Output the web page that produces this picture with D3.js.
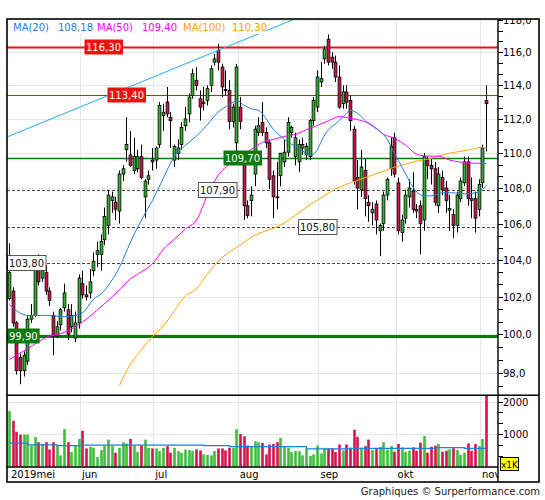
<!DOCTYPE html>
<html><head><meta charset="utf-8">
<script src="https://cdn.jsdelivr.net/npm/d3@7"></script>
<style>
body{margin:0;background:#fff}
svg{display:block}
text{font-family:"DejaVu Sans",Verdana,sans-serif}
</style>
</head><body>
<svg id="c" width="545" height="500"></svg>
<script>
// ---------------- DATA ----------------
const opens  = [101.9,102.3,100.6,98.8,98.1,98.6,100.8,101.0,103.6,103.0,103.3,102.3,101.0,99.9,100.5,101.4,101.3,100.4,99.8,100.6,
102.7,102.1,102.2,103.4,104.3,104.3,105.1,105.9,107.3,107.2,106.7,108.8,110.2,109.9,109.0,109.1,109.8,107.5,108.5,109.6,
109.6,110.5,112.2,113.0,112.1,109.6,110.0,110.5,111.6,112.3,113.4,114.3,113.2,112.9,113.1,114.0,115.4,116.1,115.1,113.75,
113.7,111.85,110.6,112.7,109.5,107.0,107.3,108.8,111.2,111.8,111.2,110.6,108.7,107.5,108.7,109.5,110.06,111.2,109.8,109.5,
110.3,109.9,109.8,111.9,112.7,114.2,115.6,116.8,115.7,115.4,114.5,112.9,113.6,113.1,111.4,108.6,107.9,109.0,107.2,106.6,
107.1,105.6,106.0,107.6,109.1,110.9,108.3,105.5,106.3,107.5,107.8,106.8,107.0,106.2,109.6,109.3,109.1,107.0,108.6,108.0,
106.75,106.5,105.9,107.4,108.3,109.5,107.4,107.4,106.8,108.3,113.1];
const highs  = [104.9,102.5,100.7,99.0,99.1,101.0,101.6,104.1,104.3,103.7,103.7,102.5,101.2,100.7,101.4,102.7,101.6,101.6,101.2,103.2,
103.4,102.6,103.5,104.4,105.0,105.4,106.9,107.9,107.8,107.5,109.0,109.3,112.1,111.3,110.9,110.2,110.5,108.5,109.0,110.3,
110.4,113.0,112.9,113.9,112.4,110.5,110.8,111.8,112.7,113.5,115.0,115.1,113.7,113.9,114.0,115.2,115.9,116.5,115.3,114.9,
114.3,112.9,115.3,113.3,110.0,107.3,108.1,111.6,112.1,113.0,111.5,110.8,109.0,109.5,110.0,110.8,112.1,111.6,111.2,110.8,
110.9,110.6,112.0,113.3,114.9,115.4,116.4,117.1,116.0,115.8,115.2,114.0,114.0,113.4,111.6,109.6,110.2,109.7,107.6,107.2,
107.3,106.0,107.8,108.6,110.9,111.2,108.6,106.5,107.9,108.5,108.9,107.1,107.3,110.0,109.8,109.7,109.5,109.2,109.0,108.4,
107.6,106.8,107.8,108.6,109.8,109.8,108.6,107.8,108.5,110.5,114.0];
const lows   = [101.8,100.4,97.9,97.4,97.8,98.4,100.6,100.9,102.6,102.8,102.1,101.5,98.9,99.8,100.2,101.2,99.7,100.1,99.6,100.3,
101.9,101.8,101.9,103.1,103.6,103.4,104.8,105.4,106.6,106.2,106.0,108.4,109.5,109.2,108.8,108.9,108.5,106.3,108.2,109.0,
109.1,110.3,111.3,112.1,110.3,109.2,109.6,110.2,111.3,111.8,113.2,113.7,111.9,112.5,112.8,113.6,115.2,114.9,113.3,113.4,
111.4,111.5,110.1,111.4,106.2,106.3,106.4,108.1,111.0,111.0,110.3,107.95,106.3,106.8,108.1,109.2,109.8,110.9,109.3,108.9,
109.9,109.6,109.6,111.6,112.4,113.9,115.3,115.2,115.0,114.2,112.6,112.6,112.6,111.3,108.2,106.8,107.5,106.4,106.1,105.9,
105.4,104.2,105.6,107.3,108.7,108.6,105.4,105.0,106.0,106.9,106.6,106.3,104.3,105.6,108.5,108.2,107.0,106.6,107.6,106.6,
105.6,105.2,105.5,107.2,108.1,107.0,106.3,105.5,106.4,108.0,110.1];
const closes = [103.3,100.6,98.1,98.1,98.9,100.8,101.0,103.9,102.8,103.4,102.3,101.8,99.9,100.4,101.3,102.2,100.0,101.0,100.6,103.0,
102.1,102.0,102.8,103.9,104.5,105.0,106.4,107.6,107.5,106.8,108.8,109.1,110.5,109.3,109.8,109.8,108.6,108.4,108.7,109.5,
110.3,112.8,112.4,112.3,111.9,110.4,110.3,111.5,112.0,113.3,114.7,114.0,112.7,113.0,113.8,115.0,115.6,115.4,113.9,113.7,
111.85,112.7,115.1,111.85,107.0,106.45,107.6,111.4,111.6,111.2,110.6,108.5,107.5,107.45,110.0,110.06,111.8,111.5,110.9,110.5,
110.5,110.4,111.9,113.1,114.5,114.4,116.2,115.4,115.4,114.5,112.7,113.6,113.0,111.9,108.4,108.0,109.2,107.4,107.0,106.8,
106.2,105.9,107.6,108.5,110.4,108.8,105.6,106.2,107.6,108.0,106.8,106.7,106.0,109.8,109.3,109.1,107.2,108.8,107.9,107.3,
106.85,105.9,107.6,108.4,109.5,107.4,107.3,106.3,108.2,110.3,112.9];
const volumes = [1707,1404,1070,980,980,980,646,909,747,697,747,525,747,657,343,1151,747,444,626,848,
1101,556,606,576,293,505,646,828,626,424,576,747,707,848,646,444,646,828,576,556,
556,475,576,626,424,576,475,424,525,505,475,525,495,374,354,343,475,556,556,495,
576,576,1151,1000,929,646,626,778,747,727,374,677,697,747,879,626,576,444,475,475,
343,556,323,374,646,404,576,556,556,444,677,495,677,576,1131,909,576,626,828,505,
556,606,747,525,630,456,692,590,446,487,590,487,733,938,426,610,641,692,456,487,
528,559,508,354,426,713,487,692,630,846,2600];

// moving averages (candle index / value)
const ma20Idx = [0,5,10,15,18,20,23,25,28,30,33,36,39,42,45,48,51,54,57,60,62,64,66,68,70,72,74,76,78,80,82,84,85,87,89,91,93,95,97,99,101,103,105,107,109,111,113,115,118,121,124,127,129,130];
const ma20Val = [101.57,101.0,101.0,100.93,101.0,101.14,101.88,102.15,102.9,103.58,104.97,106.2,107.3,108.58,109.84,110.46,111.0,111.67,112.43,112.84,113.1,112.8,112.6,112.5,112.0,111.38,110.98,110.63,110.4,110.11,109.88,110.23,110.69,111.38,111.73,112.14,112.5,112.32,111.9,111.56,111.27,110.8,109.95,109.2,108.41,107.78,107.56,107.56,107.73,107.73,107.67,107.73,107.9,108.18];
const ma50Idx = [0,5,10,15,20,25,28,30,33,36,39,42,45,48,51,54,57,60,63,66,69,72,75,78,81,84,87,90,93,96,99,102,105,108,111,114,117,120,123,126,130];
const ma50Val = [98.68,99.25,99.83,100.1,100.66,101.46,101.99,102.37,102.96,103.34,103.77,104.59,105.14,105.7,106.2,107.6,108.75,109.37,109.83,110.23,110.63,110.8,110.98,111.1,111.38,111.62,111.9,112.14,112.03,111.9,111.62,111.1,110.86,110.46,109.94,109.83,109.83,109.6,109.48,109.43,109.40];
const ma100Idx = [30,33,36,39,42,45,48,51,54,57,60,63,66,69,72,75,78,81,84,87,90,93,96,99,102,105,108,111,114,117,120,123,126,129,130];
const ma100Val = [97.34,98.43,99.2,99.88,100.45,101.25,102.04,102.42,103.23,103.94,104.43,104.81,105.25,105.53,105.75,106.04,106.48,106.93,107.33,107.73,108.06,108.3,108.52,108.75,108.97,109.2,109.37,109.54,109.66,109.83,110.0,110.11,110.23,110.35,110.30];
const volMaIdx = [0,5,13,20,53,60,81,93,116,124,130];
const volMaVal = [720,665,645,655,640,610,545,560,580,560,560];

// resistance trend line (candle index / price)
const trendIdx = [-0.64, 77.84];
const trendVal = [110.94, 118.06];

// marked price levels
const levelValues = [116.30, 113.40, 109.70, 107.90, 105.80, 103.80, 99.90];
const levelKinds  = ["redThick","red","green","dash","dash","dash","greenThick"];

const monthNames = ["2019mei","jun","jul","aug","sep","okt","nov"];
const monthFirstIdx = [0,20,40,63,85,106,129];
const priceTicks = [98,100,102,104,106,108,110,112,114,116,118];
const volTicks = [1000,2000];
const maNames = ["MA(20)","MA(50)","MA(100)"];

// ---------------- LAYOUT / STYLE ----------------
const L=7, R=498, FR=539, T=19, MB=395.3, VB=467, B=482;
const N = opens.length;
const step = 3.67;
const FS = 10;
const COL = {up:"#33b533", down:"#d3134d", ma20:"#1f7fdc", ma50:"#ff00ff", ma100:"#ffa500",
             trend:"#19b2ee", grid:"#e6e6e6", red:"#f01010", green:"#0a7a0a"};
const labelLeft = {0:84, 1:107, 2:223, 3:198, 4:298, 5:7, 6:7};

const loc = d3.formatLocale({decimal:",", thousands:".", grouping:[3], currency:["","€"]});
const f1 = loc.format(".1f"), f2 = loc.format(".2f");

const svg = d3.select("#c");
const defs = svg.append("defs");
defs.append("clipPath").attr("id","cm").append("rect").attr("x",L).attr("y",T).attr("width",R-L).attr("height",MB-T);
defs.append("clipPath").attr("id","cv").append("rect").attr("x",L).attr("y",MB).attr("width",R-L).attr("height",VB-MB);
defs.append("clipPath").attr("id","cax").append("rect").attr("x",R).attr("y",T).attr("width",FR-R).attr("height",B-T);
defs.append("clipPath").attr("id","cx").append("rect").attr("x",L).attr("y",VB).attr("width",R-L).attr("height",B-VB);

const xb = d3.scaleBand().domain(d3.range(N)).range([7.5, 7.5+N*step]).padding(0);
const bw = xb.bandwidth();
const xi = d3.scaleLinear().domain([0, N-1]).range([xb(0)+bw/2, xb(N-1)+bw/2]);
const y = d3.scaleLog().domain([96.84, 118.05]).range([MB, T]);
const yv = d3.scaleLinear().domain([0, 2200]).range([466.5, 395]);
const px = v => Math.round(v)+0.5;

// grid
const grid = svg.append("g");
grid.selectAll("line.hg").data(priceTicks).join("line")
  .attr("x1",L).attr("x2",R).attr("y1",d=>px(y(d))).attr("y2",d=>px(y(d)))
  .attr("stroke",COL.grid).attr("clip-path","url(#cm)");
grid.selectAll("line.vg").data(volTicks).join("line")
  .attr("x1",L).attr("x2",R).attr("y1",d=>px(yv(d))).attr("y2",d=>px(yv(d)))
  .attr("stroke",COL.grid);
grid.selectAll("line.mg").data(monthFirstIdx.slice(1)).join("line")
  .attr("x1",d=>px(xb(d)-1)).attr("x2",d=>px(xb(d)-1)).attr("y1",T).attr("y2",VB)
  .attr("stroke",COL.grid);

// level lines
const lv = svg.append("g").attr("clip-path","url(#cm)");
levelValues.forEach((v,k)=>{
  const kind = levelKinds[k];
  const ln = lv.append("line").attr("x1",L).attr("x2",R).attr("y1",px(y(v))).attr("y2",px(y(v)));
  if(kind==="redThick") ln.attr("stroke",COL.red).attr("stroke-width",2);
  else if(kind==="red") ln.attr("stroke",COL.red).attr("stroke-width",1);
  else if(kind==="green") ln.attr("stroke",COL.green).attr("stroke-width",1.3);
  else if(kind==="greenThick") ln.attr("stroke",COL.green).attr("stroke-width",3);
  else ln.attr("stroke","#444").attr("stroke-dasharray","3,2");
});

// candles
const candles = d3.range(N).map(i=>({i,o:opens[i],h:highs[i],l:lows[i],c:closes[i],v:volumes[i]}));
const cg = svg.append("g").attr("clip-path","url(#cm)");
const cx = i => px(xb(i)+bw/2-0.5);
cg.selectAll("line").data(candles).join("line")
  .attr("x1",d=>cx(d.i)).attr("x2",d=>cx(d.i))
  .attr("y1",d=>y(d.h)).attr("y2",d=>y(d.l))
  .attr("stroke","#000").attr("stroke-width",1);
cg.selectAll("rect").data(candles).join("rect")
  .attr("x",d=>cx(d.i)-1.4).attr("width",2.8)
  .attr("y",d=>y(Math.max(d.o,d.c)))
  .attr("height",d=>Math.max(1,Math.abs(y(d.o)-y(d.c))))
  .attr("fill",d=>d.c>=d.o?COL.up:COL.down)
  .attr("stroke","#000").attr("stroke-width",0.8);

// volume
const vg = svg.append("g").attr("clip-path","url(#cv)");
vg.selectAll("rect").data(candles).join("rect")
  .attr("x",d=>cx(d.i)-1.3).attr("width",2.6)
  .attr("y",d=>yv(d.v)).attr("height",d=>yv(0)-yv(d.v))
  .attr("fill",d=>d.c>=d.o?"#3cc03c":"#d6134e");
vg.append("path").datum(volMaIdx.map((d,k)=>[d,volMaVal[k]]))
  .attr("d",d3.line().x(d=>xi(d[0])).y(d=>yv(d[1])).curve(d3.curveStepAfter))
  .attr("fill","none").attr("stroke","#1f7fdc").attr("stroke-width",1.2);

// MAs + trend
const mg = svg.append("g").attr("clip-path","url(#cm)");
const lineGen = d3.line().x(d=>xi(d[0])).y(d=>y(d[1])).curve(d3.curveMonotoneX);
[[ma100Idx,ma100Val,COL.ma100],[ma50Idx,ma50Val,COL.ma50],[ma20Idx,ma20Val,COL.ma20]].forEach(([ix,vs,c])=>{
  mg.append("path").datum(ix.map((d,k)=>[d,vs[k]])).attr("d",lineGen)
    .attr("fill","none").attr("stroke",c).attr("stroke-width",1);
});
mg.append("path").datum(trendIdx.map((d,k)=>[d,trendVal[k]]))
  .attr("d",d3.line().x(d=>xi(d[0])).y(d=>y(d[1])))
  .attr("fill","none").attr("stroke",COL.trend).attr("stroke-width",1);

// level labels
const lg = svg.append("g");
levelValues.forEach((v,k)=>{
  const kind = levelKinds[k];
  const yy = Math.round(y(v));
  const g = lg.append("g");
  const bg = g.append("rect");
  const t = g.append("text").text(f2(v)).attr("font-size",FS)
     .attr("x",labelLeft[k]+2).attr("y",yy+4);
  const w = t.node().getComputedTextLength()+3.5;
  bg.attr("x",labelLeft[k]+0.5).attr("y",yy-7.5).attr("width",w).attr("height",15);
  if(kind.startsWith("red")){bg.attr("fill",COL.red); t.attr("fill","#fff");}
  else if(kind.startsWith("green")){bg.attr("fill",COL.green); t.attr("fill","#fff");}
  else {bg.attr("fill","#fff").attr("stroke","#555"); t.attr("fill","#111");}
});

// legend
const leg = svg.append("g");
leg.append("rect").attr("x",8).attr("y",20).attr("width",258).attr("height",14).attr("fill","#fff");
const maLast = [ma20Val[ma20Val.length-1], ma50Val[ma50Val.length-1], ma100Val[ma100Val.length-1]];
const legCols = [COL.ma20, COL.ma50, COL.ma100];
const legX = [[13,58],[97,142],[183,232]];
maNames.forEach((n,k)=>{
  leg.append("text").attr("x",legX[k][0]).attr("y",30.5).attr("font-size",FS).attr("fill",legCols[k]).text(n);
  leg.append("text").attr("x",legX[k][1]).attr("y",30.5).attr("font-size",FS).attr("fill",legCols[k]).text(f2(maLast[k]));
});

// frame
const fr = svg.append("g").attr("stroke","#000").attr("fill","none");
fr.append("rect").attr("x",L).attr("y",T).attr("width",FR-L).attr("height",B-T).attr("stroke-width",1.6);
fr.append("line").attr("x1",L).attr("x2",FR).attr("y1",MB).attr("y2",MB).attr("stroke-width",1.4);
fr.append("line").attr("x1",L).attr("x2",R).attr("y1",VB).attr("y2",VB).attr("stroke-width",1.4);
fr.append("line").attr("x1",R).attr("x2",R).attr("y1",T).attr("y2",B).attr("stroke-width",1.4);

// price axis
const ax = svg.append("g").attr("clip-path","url(#cax)");
const minor = d3.range(0,40).map(k=>96+k*2/3).filter(v=>v>96.9 && v<119);
ax.selectAll("line.mi").data(minor).join("line")
  .attr("x1",R).attr("x2",R+5).attr("y1",d=>px(y(d))).attr("y2",d=>px(y(d))).attr("stroke","#000");
ax.selectAll("text.pl").data(priceTicks).join("text")
  .attr("x",R+5).attr("y",d=>y(d)+4).attr("font-size",FS).attr("fill","#000").text(d=>f1(d));
const vminor = d3.range(1,7).map(k=>k*1000/3);
ax.selectAll("line.vm").data(vminor).join("line")
  .attr("x1",R).attr("x2",R+5).attr("y1",d=>px(yv(d))).attr("y2",d=>px(yv(d))).attr("stroke","#000");
ax.selectAll("text.vl").data(volTicks).join("text")
  .attr("x",R+5).attr("y",d=>yv(d)+4).attr("font-size",FS).attr("fill","#000").text(d=>d);
// x1K badge
const bx = svg.append("g");
bx.append("rect").attr("x",500.5).attr("y",457.5).attr("width",18).attr("height",13).attr("fill","#ffff00").attr("stroke","#000");
bx.append("text").attr("x",509.5).attr("y",468).attr("text-anchor","middle").attr("font-size",9).attr("fill","#000").text("x1K");

// months
const mx = svg.append("g").attr("clip-path","url(#cx)");
mx.selectAll("text").data(monthFirstIdx).join("text")
  .attr("x",(d,k)=>k===0?11:xb(d)+1).attr("y",478).attr("font-size",FS).attr("fill","#000")
  .text((d,k)=>monthNames[k]);

// footer
svg.append("text").attr("x",540).attr("y",495).attr("text-anchor","end").attr("font-size",FS).attr("fill","#222")
  .text("Graphiques © Surperformance.com");
</script>
</body></html>
